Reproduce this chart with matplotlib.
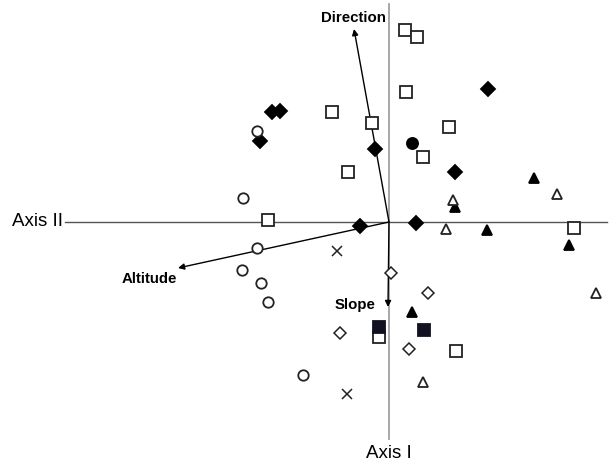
import numpy as np
import matplotlib.pyplot as plt

plt.rcParams['font.family'] = ['Liberation Sans', 'DejaVu Sans']

# site scores on axis II (x) and axis I (y)
open_sq_x = [0.16, 0.28, 0.17, -0.57, -0.17, 0.60, 0.34, -0.41, -1.21, 1.85, -0.10, 0.67]
open_sq_y = [1.92, 1.85, 1.30, 1.10, 0.99, 0.95, 0.65, 0.50, 0.02, -0.06, -1.15, -1.29]

fill_dia_x = [-1.17, -1.09, -1.29, 0.99, -0.14, 0.66, -0.29, 0.27]
fill_dia_y = [1.10, 1.11, 0.81, 1.33, 0.73, 0.50, -0.04, -0.01]

fill_circ_x = [0.23]
fill_circ_y = [0.79]

open_circ_x = [-1.32, -1.46, -1.32, -1.47, -1.28, -1.21, -0.86]
open_circ_y = [0.91, 0.24, -0.26, -0.48, -0.61, -0.80, -1.53]

fill_tri_x = [1.45, 0.66, 0.98, 1.80, 0.23]
fill_tri_y = [0.44, 0.15, -0.08, -0.23, -0.90]

open_tri_x = [1.68, 0.64, 0.57, 2.07, 0.34]
open_tri_y = [0.28, 0.22, -0.07, -0.71, -1.60]

cross_x = [-0.52, -0.42]
cross_y = [-0.29, -1.72]

open_dia_x = [0.02, 0.39, -0.49, 0.20]
open_dia_y = [-0.51, -0.71, -1.11, -1.27]

fill_sq_x = [-0.10, 0.35]
fill_sq_y = [-1.05, -1.08]

# environmental vectors
vec_names = ['Direction', 'Altitude', 'Slope']
vec_x = [-0.35, -2.11, -0.01]
vec_y = [1.93, -0.46, -0.85]

fig = plt.figure(figsize=(6.12, 4.64), dpi=100)
ax = fig.add_axes([0, 0, 1, 1])
ax.set_xlim(-3.89, 2.23)
ax.set_ylim(-2.41, 2.23)
ax.axis('off')

ax.plot([-3.24, 2.18], [0, 0], color='#555555', lw=1.0, zorder=1)
ax.plot([0, 0], [-2.17, 2.18], color='#a0a0a0', lw=1.3, zorder=1)

ms = 8
kw = dict(ls='none', ms=ms, mew=1.3, zorder=3)
ax.plot(open_sq_x, open_sq_y, marker='s', mfc='white', mec='#222222', **kw)
ax.plot(fill_dia_x, fill_dia_y, marker='D', mfc='black', mec='black', **dict(kw, ms=7))
ax.plot(fill_circ_x, fill_circ_y, marker='o', mfc='black', mec='black', **kw)
ax.plot(open_circ_x, open_circ_y, marker='o', mfc='white', mec='#222222', **dict(kw, ms=7.5))
ax.plot(fill_tri_x, fill_tri_y, marker='^', mfc='black', mec='black', **dict(kw, ms=6.5))
ax.plot(open_tri_x, open_tri_y, marker='^', mfc='white', mec='#222222', **dict(kw, ms=6.5))
ax.plot(cross_x, cross_y, marker='x', color='#222222', **dict(kw, ms=7, mew=1.1))
ax.plot(open_dia_x, open_dia_y, marker='D', mfc='white', mec='#222222', **dict(kw, ms=6.5, mew=1.1))
ax.plot(fill_sq_x, fill_sq_y, marker='s', mfc='#111122', mec='#111122', **kw)

for name, vx, vy in zip(vec_names, vec_x, vec_y):
    ax.annotate('', xy=(vx, vy), xytext=(0, 0),
                arrowprops=dict(arrowstyle='-|>', color='black', lw=1.0,
                                mutation_scale=9, shrinkA=0, shrinkB=0),
                zorder=2)

ax.text(-0.36, 2.05, 'Direction', fontsize=10.8, fontweight='bold', ha='center', va='center')
ax.text(-2.40, -0.56, 'Altitude', fontsize=10.8, fontweight='bold', ha='center', va='center')
ax.text(-0.34, -0.82, 'Slope', fontsize=10.8, fontweight='bold', ha='center', va='center')

ax.text(-3.52, 0.02, 'Axis II', fontsize=13.5, ha='center', va='center')
ax.text(0.0, -2.31, 'Axis I', fontsize=13.5, ha='center', va='center')

fig.savefig('out.png', dpi=100)
